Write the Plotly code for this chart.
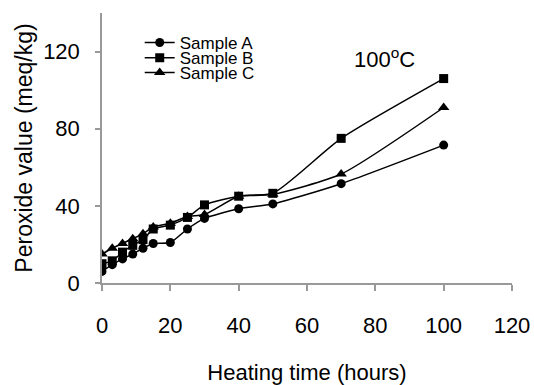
import plotly.graph_objects as go

hours = [0, 3, 6, 9, 12, 15, 20, 25, 30, 40, 50, 70, 100]
sample_a = [6, 9.5, 12.5, 15, 18, 20.5, 21, 28, 33.5, 38.5, 41, 51.5, 71.5]
sample_b = [10, 11.5, 16, 19.5, 22.5, 28, 30, 34, 40.5, 45, 46.5, 75, 106]
sample_c = [15, 18, 20.5, 23, 25.5, 29, 31, 34.5, 35.5, 45, 46, 56.5, 91]
series = [("Sample A", sample_a, "circle"), ("Sample B", sample_b, "square"), ("Sample C", sample_c, "triangle-up")]
legend_ids = ["legend", "legend2", "legend3"]
legend_rows = [0.889, 0.833, 0.778]

FONT = "Liberation Sans, Arial, sans-serif"
fig = go.Figure()
for (name, vals, sym), lid in zip(series, legend_ids):
    fig.add_trace(go.Scatter(
        x=hours, y=vals, name=name, mode="lines+markers", legend=lid,
        line=dict(color="black", width=1.5, shape="spline", smoothing=0.6),
        marker=dict(symbol=sym, size=9 if sym != "triangle-up" else 10, color="black"),
    ))

fig.add_annotation(x=82.6, y=116.5, xref="x", yref="y", text="100<sup>o</sup>C",
                   showarrow=False, font=dict(family=FONT, size=22, color="black"))

legend_style = dict(x=0.092, xanchor="left", yanchor="middle",
                    font=dict(family=FONT, size=17, color="black"),
                    bgcolor="rgba(0,0,0,0)", borderwidth=0)
layout_legends = {lid: dict(y=yy, **legend_style) for lid, yy in zip(legend_ids, legend_rows)}

fig.update_layout(
    width=534, height=385,
    margin=dict(l=102, r=22, t=13, b=102, autoexpand=False),
    paper_bgcolor="white", plot_bgcolor="white",
    font=dict(family=FONT, color="black"),
    showlegend=True,
    **layout_legends,
    xaxis=dict(range=[0, 120], tickvals=[0, 20, 40, 60, 80, 100, 120], automargin=False,
               showgrid=False, zeroline=False, showline=True, linecolor="#999999", linewidth=1.5,
               ticks="outside", ticklen=6, tickcolor="#999999", tickwidth=1.5,
               tickfont=dict(family=FONT, size=22, color="black"), ticklabelstandoff=16,
               title=dict(text="Heating time (hours)", font=dict(family=FONT, size=22, color="black"), standoff=36)),
    yaxis=dict(range=[0, 140], tickvals=[0, 40, 80, 120], automargin=False,
               showgrid=False, zeroline=False, showline=True, linecolor="#999999", linewidth=1.5,
               ticks="outside", ticklen=5, tickcolor="#999999", tickwidth=1.5,
               tickfont=dict(family=FONT, size=22, color="black"), ticklabelstandoff=11,
               title=dict(text="Peroxide value (meq/kg)", font=dict(family=FONT, size=23, color="black"), standoff=4)),
)
fig.write_html("out.html")
